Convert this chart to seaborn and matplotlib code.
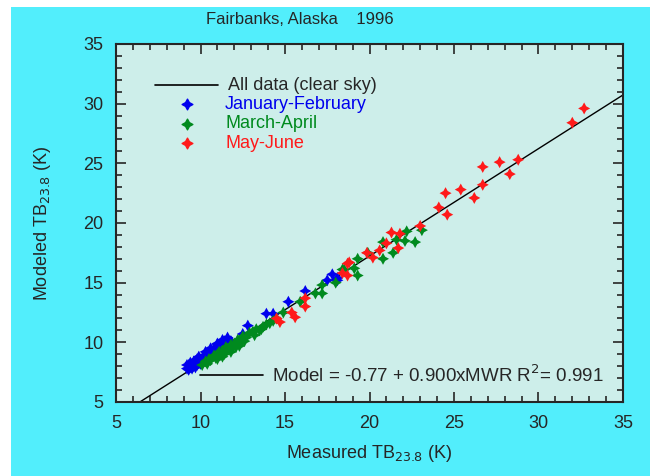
import numpy as np
import pandas as pd
import seaborn as sns
import matplotlib.pyplot as plt
from matplotlib.patches import Rectangle

# January-February
jf_x = [9.2, 9.3, 9.4, 9.3, 9.5, 9.6, 9.5, 9.7, 9.8, 9.9, 10.0, 10.1, 10.2, 10.3,
        10.4, 10.5, 10.6, 10.7, 10.8, 10.9, 11.0, 11.1, 11.2, 11.3, 11.4, 11.5,
        11.6, 11.8, 11.9, 10.0, 9.6, 9.4, 9.8, 10.2, 10.6, 11.0, 11.4, 9.2, 9.7,
        10.4, 10.9, 10.3, 10.6, 11.0, 11.3, 11.6, 9.9,
        12.5, 12.8, 13.9, 14.3, 15.2, 16.2, 17.5, 17.8, 18.1, 18.1]
jf_y = [7.8, 8.1, 7.9, 7.7, 8.2, 8.0, 7.8, 8.3, 8.1, 8.4, 8.5, 8.3, 8.7, 8.6,
        8.9, 9.0, 8.8, 9.2, 9.4, 9.1, 9.5, 9.7, 9.4, 9.8, 9.6, 9.9,
        10.0, 10.1, 9.9, 8.2, 8.4, 8.3, 8.6, 8.9, 9.3, 9.8, 10.1, 8.1, 7.9,
        8.6, 9.6, 9.2, 9.5, 9.9, 10.2, 10.4, 8.8,
        10.7, 11.4, 12.4, 12.4, 13.4, 14.3, 15.2, 15.7, 15.2, 15.4]

# March-April
ma_x = [10.1, 10.3, 10.5, 10.6, 10.8, 11.0, 11.1, 11.3, 11.5, 11.6, 11.8, 12.0,
        12.2, 12.3, 12.5, 12.7, 12.9, 13.1, 13.3, 13.5, 13.7, 13.9, 14.1, 14.3,
        14.5, 14.9, 15.9, 16.8, 17.2, 17.2, 18.0, 18.5, 18.4, 19.3, 19.1, 19.3,
        19.9, 20.8, 20.8, 21.4, 21.6, 22.1, 22.2, 22.7, 23.1,
        10.4, 10.9, 11.4, 11.9, 12.4, 12.6, 13.2, 13.6, 12.1,
        11.0, 11.3, 11.8, 12.3]
ma_y = [8.1, 8.4, 8.6, 8.5, 8.9, 9.0, 9.2, 9.3, 9.6, 9.4, 9.8, 9.9,
        10.2, 10.0, 10.5, 10.4, 10.8, 10.9, 11.1, 11.0, 11.3, 11.5, 11.6, 11.8,
        12.0, 12.5, 13.4, 14.1, 14.1, 14.8, 15.0, 16.1, 16.1, 17.0, 16.2, 15.6,
        17.5, 17.0, 18.4, 17.5, 18.6, 18.5, 19.3, 18.4, 19.4,
        8.2, 8.7, 9.0, 9.5, 10.0, 10.1, 10.6, 11.1, 9.6,
        8.6, 8.8, 9.2, 9.7]

# May-June
mj_x = [14.5, 14.7, 15.4, 15.6, 16.2, 16.2, 18.4, 18.7, 18.8, 18.7, 19.85, 20.2,
        20.6, 21.0, 21.3, 21.8, 21.7, 23.0, 24.1, 24.5, 24.6, 25.4, 26.2, 26.7,
        26.7, 27.7, 28.3, 28.8, 32.0, 32.7]
mj_y = [12.0, 11.7, 12.5, 12.1, 13.7, 13.0, 15.8, 16.6, 16.7, 15.6, 17.5, 17.1,
        17.7, 18.3, 19.2, 19.1, 17.9, 19.75, 21.3, 22.5, 20.7, 22.8, 22.1, 23.2,
        24.7, 25.1, 24.1, 25.3, 28.4, 29.6]

periods = ["January-February", "March-April", "May-June"]
colors = {"January-February": "#0000ee", "March-April": "#008a1e", "May-June": "#ff1a1a"}

# fit: Model = -0.77 + 0.900 x MWR
intercept = -0.77
slope = 0.900
r2 = 0.991

df = pd.concat([
    pd.DataFrame({"measured": jf_x, "modeled": jf_y, "period": periods[0]}),
    pd.DataFrame({"measured": ma_x, "modeled": ma_y, "period": periods[1]}),
    pd.DataFrame({"measured": mj_x, "modeled": mj_y, "period": periods[2]}),
])

sns.set_style("ticks")
plt.rcParams['font.family'] = ['Liberation Sans', 'DejaVu Sans']

fig = plt.figure(figsize=(6.5, 4.76), dpi=100, facecolor="white")
fig.patches.append(Rectangle((11 / 650, 0), 1, 1 - 7 / 476, transform=fig.transFigure,
                             facecolor="#52eefc", edgecolor="none", zorder=-1))
ax = fig.add_axes([116 / 650, (476 - 402) / 476, 507 / 650, 358 / 476])
ax.set_facecolor("#cdeeea")

fx = np.array([5, 35])
ax.plot(fx, intercept + slope * fx, color="black", lw=1.0, zorder=1)

sns.scatterplot(data=df, x="measured", y="modeled", hue="period", palette=colors,
                marker=(4, 1, 0), s=75, edgecolor="none", legend=False, ax=ax, zorder=2)

ax.set_xlim(5, 35)
ax.set_ylim(5, 35)
ax.set_xticks(range(5, 36, 5))
ax.set_yticks(range(5, 36, 5))
ax.set_xticks(range(5, 36), minor=True)
ax.set_yticks(range(5, 36), minor=True)
ax.tick_params(which="both", direction="in", top=True, right=True, labelsize=13, width=1.2)
ax.tick_params(which="major", length=7, pad=9)
ax.tick_params(which="minor", length=4)
for s in ax.spines.values():
    s.set_linewidth(1.5)

ax.set_xlabel("Measured TB$_{23.8}$ (K)", fontsize=13, labelpad=8)
ax.set_ylabel("Modeled TB$_{23.8}$ (K)", fontsize=13, labelpad=22)
fig.text(300 / 650, 1 - 20 / 476, "Fairbanks, Alaska    1996", fontsize=12,
         ha="center", va="center")

# legend drawn by hand
ax.plot([0.077, 0.201], [0.885, 0.885], color="black", lw=1.2, transform=ax.transAxes)
ax.text(0.221, 0.885, "All data (clear sky)", fontsize=13, va="center", transform=ax.transAxes)
for yy, p in zip([0.832, 0.777, 0.723], periods):
    ax.scatter([0.140], [yy], marker=(4, 1, 0), s=60, color=colors[p], transform=ax.transAxes)
    ax.text(0.215, yy, p, fontsize=13, color=colors[p], va="center", transform=ax.transAxes)

ax.plot([0.166, 0.290], [0.075, 0.075], color="black", lw=1.2, transform=ax.transAxes)
ax.text(0.308, 0.075, f"Model = {intercept} + {slope:.3f}xMWR R$^2$= {r2}", fontsize=13.5,
        va="center", transform=ax.transAxes)

fig.savefig("out.png", dpi=100, facecolor=fig.get_facecolor())
